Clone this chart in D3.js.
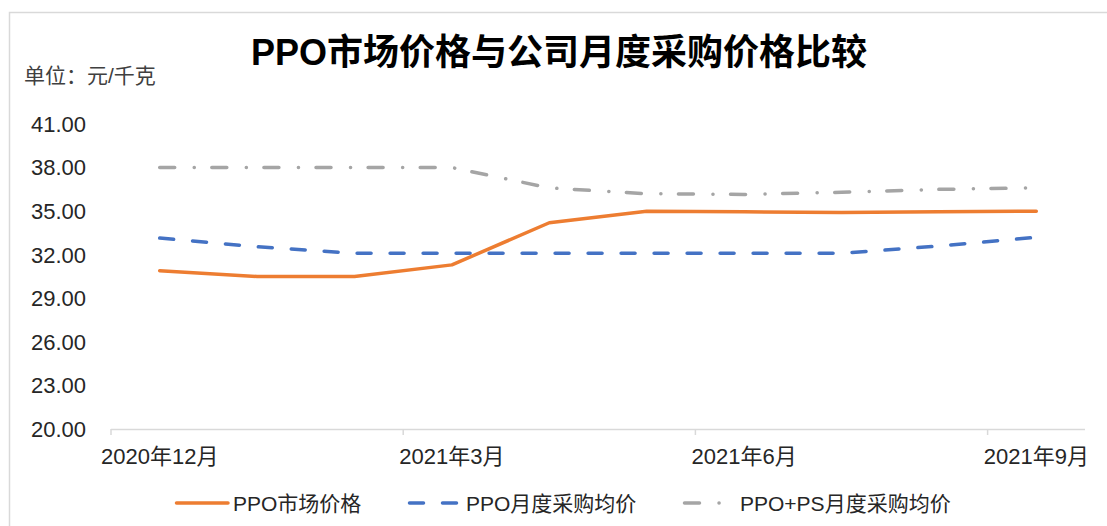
<!DOCTYPE html>
<html>
<head>
<meta charset="utf-8">
<script src="https://cdn.jsdelivr.net/npm/d3@7"></script>
<style>
  body { margin: 0; background: #fff; }
  text { font-family: "Liberation Sans", Arial, "Noto Sans CJK SC", sans-serif; }
</style>
</head>
<body>
<div id="chart"></div>
<script>
// data
var months = ["2020年12月", "2021年1月", "2021年2月", "2021年3月", "2021年4月",
  "2021年5月", "2021年6月", "2021年7月", "2021年8月", "2021年9月"];
var marketPrice = [30.9, 30.5, 30.5, 31.3, 34.2, 35.0, 34.95, 34.9, 34.95, 35.0];
var ppoAvg = [33.15, 32.55, 32.1, 32.1, 32.1, 32.1, 32.1, 32.1, 32.6, 33.2];
var ppoPsAvg = [38.0, 38.0, 38.0, 38.0, 36.6, 36.2, 36.15, 36.3, 36.5, 36.6];
var yTicks = [20, 23, 26, 29, 32, 35, 38, 41];
var labelIdx = [0, 3, 6, 9];
var seriesNames = ["PPO市场价格", "PPO月度采购均价", "PPO+PS月度采购均价"];

var width = 1107, height = 526;

var svg = d3.select("#chart")
  .append("svg")
  .attr("width", width)
  .attr("height", height);

// chart frame (top + left edges visible)
svg.append("path")
  .attr("d", "M9.5,526 L9.5,12.5 L1107,12.5")
  .attr("fill", "none")
  .attr("stroke", "#d9d9d9")
  .attr("stroke-width", 1.5);

var x = d3.scaleBand().domain(months).range([111, 1085]).padding(0);
var y = d3.scaleLinear().domain([20, 41]).range([429, 124]);

// title
svg.append("text")
  .attr("x", 559)
  .attr("y", 65)
  .attr("text-anchor", "middle")
  .attr("font-size", 36)
  .attr("font-weight", "bold")
  .attr("fill", "#000")
  .text("PPO市场价格与公司月度采购价格比较");

// unit label
svg.append("text")
  .attr("x", 24)
  .attr("y", 83)
  .attr("font-size", 21)
  .attr("fill", "#404040")
  .text("单位：元/千克");

// y labels
svg.append("g")
  .selectAll("text")
  .data(yTicks)
  .enter().append("text")
  .attr("x", 86)
  .attr("y", function(d) { return y(d); })
  .attr("dy", "0.36em")
  .attr("text-anchor", "end")
  .attr("font-size", 22)
  .attr("fill", "#262626")
  .text(function(d) { return d.toFixed(2); });

// x axis line
var axisG = svg.append("g").attr("class", "x-axis");
axisG.append("line")
  .attr("x1", x.range()[0])
  .attr("x2", x.range()[1])
  .attr("y1", y(20) + 0.5)
  .attr("y2", y(20) + 0.5)
  .attr("stroke", "#d9d9d9")
  .attr("stroke-width", 1.5);

axisG.selectAll(".tick")
  .data(labelIdx)
  .enter().append("line")
  .attr("x1", function(i) { return x(months[i]); })
  .attr("x2", function(i) { return x(months[i]); })
  .attr("y1", y(20))
  .attr("y2", y(20) + 6)
  .attr("stroke", "#d9d9d9")
  .attr("stroke-width", 1.5);

axisG.selectAll(".lbl")
  .data(labelIdx)
  .enter().append("text")
  .attr("x", function(i) { return x(months[i]) + x.bandwidth() / 2; })
  .attr("y", 464)
  .attr("text-anchor", "middle")
  .attr("font-size", 22)
  .attr("fill", "#262626")
  .text(function(i) { return months[i]; });

// lines
var line = d3.line()
  .x(function(d, i) { return x(months[i]) + x.bandwidth() / 2; })
  .y(function(d) { return y(d); });

var styles = [
  { color: "#ED7D31", dash: null },
  { color: "#4472C4", dash: "14,19" },
  { color: "#A5A5A5", dash: "15,19.5,0.1,17.5" }
];
var allSeries = [marketPrice, ppoAvg, ppoPsAvg];

// draw gray first, then blue, then orange on top
[2, 1, 0].forEach(function(k) {
  svg.append("path")
    .datum(allSeries[k])
    .attr("d", line)
    .attr("fill", "none")
    .attr("stroke", styles[k].color)
    .attr("stroke-width", 3.5)
    .attr("stroke-linecap", "round")
    .attr("stroke-linejoin", "round")
    .attr("stroke-dasharray", styles[k].dash);
});

// legend
var legendX = [[175, 228, 233], [408, 458, 466], [683, 720, 740]];
var legend = svg.append("g").attr("class", "legend");
seriesNames.forEach(function(name, k) {
  var lx = legendX[k];
  legend.append("line")
    .attr("x1", lx[0] + 1.5)
    .attr("x2", lx[1])
    .attr("y1", 503)
    .attr("y2", 503)
    .attr("stroke", styles[k].color)
    .attr("stroke-width", 3.5)
    .attr("stroke-linecap", "round")
    .attr("stroke-dasharray", styles[k].dash);
  legend.append("text")
    .attr("x", lx[2])
    .attr("y", 511)
    .attr("font-size", 21)
    .attr("fill", "#262626")
    .text(name);
});
</script>
</body>
</html>
